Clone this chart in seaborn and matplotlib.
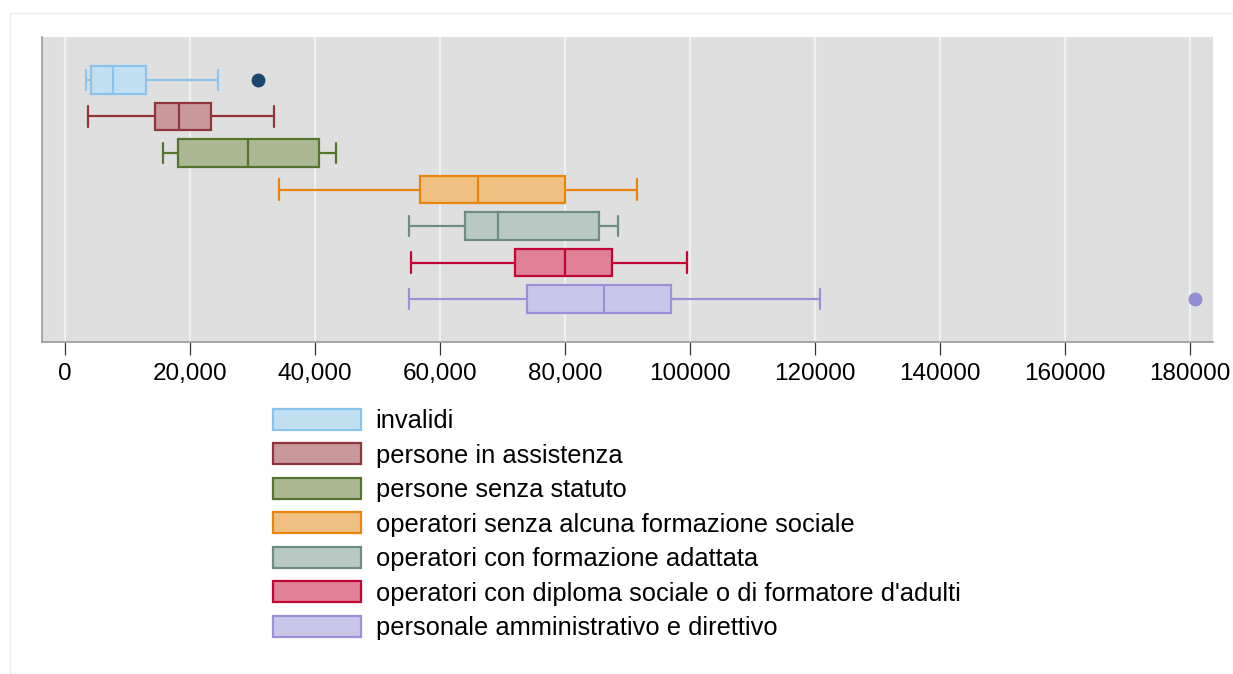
import matplotlib
matplotlib.use('Agg')
import matplotlib.pyplot as plt
from matplotlib.patches import Patch, Rectangle
import numpy as np
import pandas as pd
import seaborn as sns

# ---- data (five-number summaries + outliers) ----
groups = ['invalidi',
          'persone in assistenza',
          'persone senza statuto',
          'operatori senza alcuna formazione sociale',
          'operatori con formazione adattata',
          "operatori con diploma sociale o di formatore d'adulti",
          'personale amministrativo e direttivo']
lows = [3300, 3600, 15600, 34200, 55100, 55300, 55100]
q1s = [4100, 14450, 18100, 56850, 64000, 72050, 73900]
medians = [7600, 18200, 29200, 66100, 69200, 80000, 86200]
q3s = [12900, 23400, 40600, 80000, 85400, 87500, 96900]
highs = [24500, 33500, 43300, 91500, 88500, 99500, 120800]
outliers = [30800, None, None, None, None, None, 180800]

face_colors = ['#c2dff2', '#c9989b', '#abb893', '#f0c083', '#b8c8c2', '#e08197', '#cac6e9']
edge_colors = ['#89c4ec', '#90353b', '#55752f', '#e8850d', '#6e8e84', '#c10534', '#9a91d8']
flier_colors = ['#1a476f', None, None, None, None, None, '#938dd3']

tick_vals = [0, 20000, 40000, 60000, 80000, 100000, 120000, 140000, 160000, 180000]
tick_labels = ['0', '20,000', '40,000', '60,000', '80,000',
               '100000', '120000', '140000', '160000', '180000']

# build a small sample per group that reproduces the summary exactly
rows = []
for g, lo, a, m, b, hi, out in zip(groups, lows, q1s, medians, q3s, highs, outliers):
    if out is None:
        vals = [lo, a, a, m, m, m, b, b, hi]
    else:
        vals = [lo, a, a, m, m, b, b, hi, out]
    rows += [(g, v) for v in vals]
df = pd.DataFrame(rows, columns=['group', 'value'])

sns.set_theme(style='white')
plt.rcParams['font.family'] = ['Liberation Sans', 'DejaVu Sans']
plt.rcParams['text.color'] = 'black'
plt.rcParams['xtick.color'] = 'black'

fig = plt.figure(figsize=(12.33, 6.74), dpi=100)
fig.patches.append(Rectangle((10 / 1233, 0), 1.0, 1 - 13 / 674, transform=fig.transFigure,
                             fill=False, edgecolor='#e6ecec', lw=1))
ax = fig.add_axes([42 / 1233, 1 - 342 / 674, (1213 - 42) / 1233, (342 - 37) / 674])
ax.set_facecolor('#dfdfdf')

for i, g in enumerate(groups):
    sub = df[df.group == g]
    fc = flier_colors[i] if flier_colors[i] else edge_colors[i]
    sns.boxplot(data=sub, x='value', y='group', order=groups, ax=ax,
                color=face_colors[i], linecolor=edge_colors[i], saturation=1,
                width=0.75, linewidth=1.6, whis=1.5, capwidths=0.56,
                flierprops=dict(marker='o', markersize=9, markerfacecolor=fc,
                                markeredgecolor=fc))

ax.set_xlim(-3700, 183700)
ax.set_ylim(7.17, -1.17)
ax.set_xticks(tick_vals)
ax.set_xticklabels(tick_labels, fontsize=17.5, color='black')
ax.set_yticks([])
ax.set_xlabel('')
ax.set_ylabel('')
ax.grid(axis='x', color='#eaf2f3', lw=1.6, zorder=0)
ax.set_axisbelow(True)
ax.tick_params(axis='x', bottom=True, length=9, width=0.9, color='#333333', pad=6)
for s in ['top', 'right']:
    ax.spines[s].set_visible(False)
for s in ['left', 'bottom']:
    ax.spines[s].set_color('#9a9a9a')
    ax.spines[s].set_linewidth(1.2)

handles = [Patch(facecolor=f, edgecolor=e, lw=1.6) for f, e in zip(face_colors, edge_colors)]
leg = fig.legend(handles, groups, loc='upper left', bbox_to_anchor=(273 / 1233, 1 - 409 / 674),
                 frameon=False, fontsize=18.4, handlelength=3.44, handleheight=0.88,
                 handletextpad=0.58, labelspacing=0.40, borderpad=0, borderaxespad=0)
for t in leg.get_texts():
    t.set_color('black')

fig.savefig('out.png', dpi=100)
